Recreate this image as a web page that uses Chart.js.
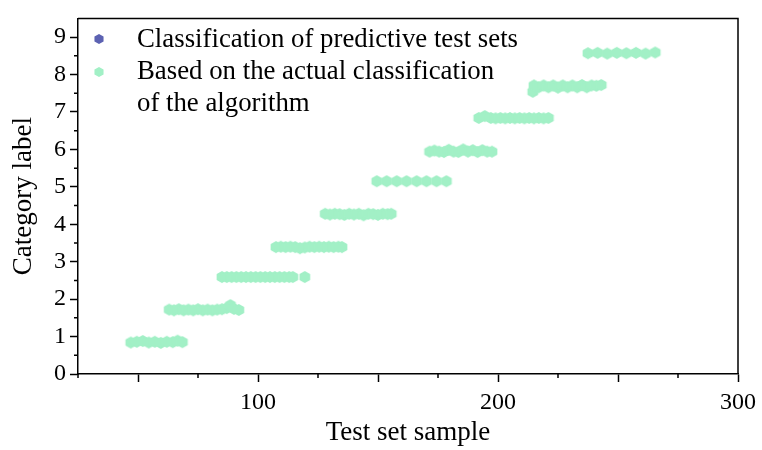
<!DOCTYPE html>
<html>
<head>
<meta charset="utf-8">
<script src="https://cdn.jsdelivr.net/npm/chart.js@4/dist/chart.umd.min.js"></script>
<style>html,body{margin:0;padding:0;background:#fff}</style>
</head>
<body>
<canvas id="myChart" width="762" height="450"></canvas>
<script>
// samples of each class (x = test set sample, y = category label)
const c1x = [47, 49.5, 52, 54.5, 57, 59.5, 62, 64.5, 66.5, 68.5]
const c1y = [0.84, 0.86, 0.88, 0.84, 0.86, 0.83, 0.86, 0.85, 0.89, 0.85]
const c2x = [63, 65, 67, 69, 71, 73, 75, 77, 79, 81, 83, 85, 87, 88.5, 90, 92]
const c2y = [1.72, 1.70, 1.73, 1.70, 1.72, 1.70, 1.73, 1.70, 1.72, 1.70, 1.72, 1.73, 1.76, 1.84, 1.74, 1.71]
const c3x = [85, 87, 89, 91, 93, 95, 97, 99, 101, 103, 105, 107, 109, 111, 113, 114.5, 119.5]
const c3y = [2.59, 2.59, 2.59, 2.59, 2.59, 2.59, 2.59, 2.59, 2.59, 2.59, 2.59, 2.59, 2.59, 2.59, 2.59, 2.59, 2.59]
const c4x = [107.5, 109.5, 111.5, 113.5, 115.5, 117.5, 119.5, 121.5, 123.5, 125.5, 127.5, 129.5, 131.5, 133.5, 135]
const c4y = [3.39, 3.40, 3.39, 3.40, 3.39, 3.36, 3.38, 3.40, 3.39, 3.40, 3.39, 3.40, 3.39, 3.40, 3.39]
const c5x = [128, 130, 132, 134, 136, 138, 140, 142, 144, 146, 148, 150, 152, 154, 155.5]
const c5y = [4.28, 4.26, 4.28, 4.27, 4.25, 4.28, 4.26, 4.28, 4.24, 4.28, 4.27, 4.25, 4.28, 4.27, 4.28]
const c6x = [149.5, 153.6, 157.8, 161.9, 166.1, 170.2, 174.4, 178.5]
const c6y = [5.15, 5.15, 5.15, 5.15, 5.15, 5.15, 5.15, 5.15]
const c7x = [171.5, 173.5, 175.5, 177.5, 179.5, 181.5, 183.5, 185.5, 187.5, 189.5, 191.5, 193.5, 195.5, 197.5]
const c7y = [5.94, 5.97, 5.94, 5.93, 5.99, 5.94, 5.93, 6.00, 5.94, 5.98, 5.93, 5.98, 5.94, 5.94]
const c8x = [192, 194.5, 197, 199, 201, 203, 205, 207, 209, 211, 213, 215, 217, 219, 221]
const c8y = [6.84, 6.89, 6.84, 6.83, 6.84, 6.83, 6.84, 6.83, 6.84, 6.83, 6.84, 6.83, 6.84, 6.83, 6.84]
const c9x = [214.5, 215, 217, 219, 221, 223, 225, 227, 229, 231, 233, 235, 237, 239, 241, 243]
const c9y = [7.54, 7.71, 7.66, 7.71, 7.66, 7.71, 7.65, 7.71, 7.66, 7.71, 7.66, 7.72, 7.66, 7.71, 7.70, 7.72]
const c10x = [237.5, 241.5, 245.5, 249.5, 253.5, 257.5, 261.5, 265.5]
const c10y = [8.57, 8.58, 8.56, 8.58, 8.57, 8.58, 8.56, 8.59]

const xTicks = [50, 100, 150, 200, 250, 300]
const xMinor = [25, 75, 125, 175, 225, 275]
const yTicks = [0, 1, 2, 3, 4, 5, 6, 7, 8, 9]
const yMinor = [0.5, 1.5, 2.5, 3.5, 4.5, 5.5, 6.5, 7.5, 8.5]

const legendLabels = ['Classification of predictive test sets', ['Based on the actual classification', 'of the algorithm']]

const blue = '#5c62b2'
const green = '#a2f0c6'
const font = "'Times New Roman', 'Liberation Serif', serif"

const allX = [c1x, c2x, c3x, c4x, c5x, c6x, c7x, c8x, c9x, c10x]
const allY = [c1y, c2y, c3y, c4y, c5y, c6y, c7y, c8y, c9y, c10y]
const points = []
allX.forEach((xs, k) => xs.forEach((v, i) => points.push({ x: v, y: allY[k][i] })))

function hexagon(color, r) {
  const c = document.createElement('canvas')
  const w = Math.ceil(r * 2) + 2
  c.width = w; c.height = w
  const g = c.getContext('2d')
  g.fillStyle = color
  g.beginPath()
  for (let i = 0; i < 6; i++) {
    const a = Math.PI / 180 * (60 * i - 90)
    const px = w / 2 + r * 1.05 * Math.cos(a), py = w / 2 + r * Math.sin(a)
    i ? g.lineTo(px, py) : g.moveTo(px, py)
  }
  g.closePath()
  g.fill()
  return c
}

// predicted marks sit under the actual ones, keep them a bit smaller
const blueHex = hexagon(blue, 4.5)
const greenHex = hexagon(green, 5.9)
const blueSmall = hexagon(blue, 5)
const greenSmall = hexagon(green, 5)

const frame = {
  id: 'frame',
  afterDraw(chart) {
    const { ctx, chartArea: a, scales: { x, y } } = chart
    ctx.save()
    ctx.strokeStyle = '#000'
    ctx.lineWidth = 1.5
    ctx.beginPath()
    ctx.moveTo(a.left, a.top); ctx.lineTo(a.right, a.top); ctx.lineTo(a.right, a.bottom)
    xMinor.forEach(v => { const p = x.getPixelForValue(v); ctx.moveTo(p, a.bottom); ctx.lineTo(p, a.bottom + 4) })
    yMinor.forEach(v => { const p = y.getPixelForValue(v); ctx.moveTo(a.left, p); ctx.lineTo(a.left - 4, p) })
    ctx.stroke()

    // legend inside the plot
    ctx.drawImage(blueSmall, 99 - blueSmall.width / 2, 39 - blueSmall.height / 2)
    ctx.drawImage(greenSmall, 99 - greenSmall.width / 2, 72 - greenSmall.height / 2)
    ctx.fillStyle = '#000'
    ctx.font = '26.8px ' + font
    ctx.textBaseline = 'middle'
    ctx.fillText(legendLabels[0], 137, 40)
    ctx.fillText(legendLabels[1][0], 137, 72)
    ctx.fillText(legendLabels[1][1], 137, 104)
    ctx.restore()
  }
}

new Chart(document.getElementById('myChart'), {
  type: 'scatter',
  data: {
    datasets: [{
      label: 'Classification of predictive test sets',
      data: points,
      pointStyle: blueHex,
      backgroundColor: blue,
      order: 2
    }, {
      label: 'Based on the actual classification of the algorithm',
      data: points,
      pointStyle: greenHex,
      backgroundColor: green,
      order: 1
    }]
  },
  options: {
    responsive: false,
    animation: false,
    layout: { padding: { top: 7, right: 23, left: 0, bottom: 0 } },
    plugins: { legend: { display: false }, tooltip: { enabled: false } },
    scales: {
      x: {
        type: 'linear',
        min: 25,
        max: 300,
        afterBuildTicks: s => { s.ticks = xTicks.map(v => ({ value: v })) },
        afterFit: s => { s.height = 76 },
        grid: { drawOnChartArea: false, tickLength: 8, tickColor: '#000', tickWidth: 1.5 },
        border: { color: '#000', width: 1.5 },
        ticks: {
          color: '#000',
          padding: 6,
          font: { family: font, size: 24 },
          callback: v => (v % 100 === 0 ? v : '')
        },
        title: {
          display: true,
          text: 'Test set sample',
          color: '#000',
          font: { family: font, size: 27 },
          padding: { top: 0, bottom: 1 }
        }
      },
      y: {
        min: 0,
        max: 9.5,
        afterBuildTicks: s => { s.ticks = yTicks.map(v => ({ value: v })) },
        afterFit: s => { s.width = 78 },
        grid: { drawOnChartArea: false, tickLength: 8, tickColor: '#000', tickWidth: 1.5 },
        border: { color: '#000', width: 1.5 },
        ticks: {
          color: '#000',
          padding: 4,
          font: { family: font, size: 24 }
        },
        title: {
          display: true,
          text: 'Category label',
          color: '#000',
          font: { family: font, size: 27 },
          padding: { top: 8, bottom: 0 }
        }
      }
    }
  },
  plugins: [frame]
})
</script>
</body>
</html>
